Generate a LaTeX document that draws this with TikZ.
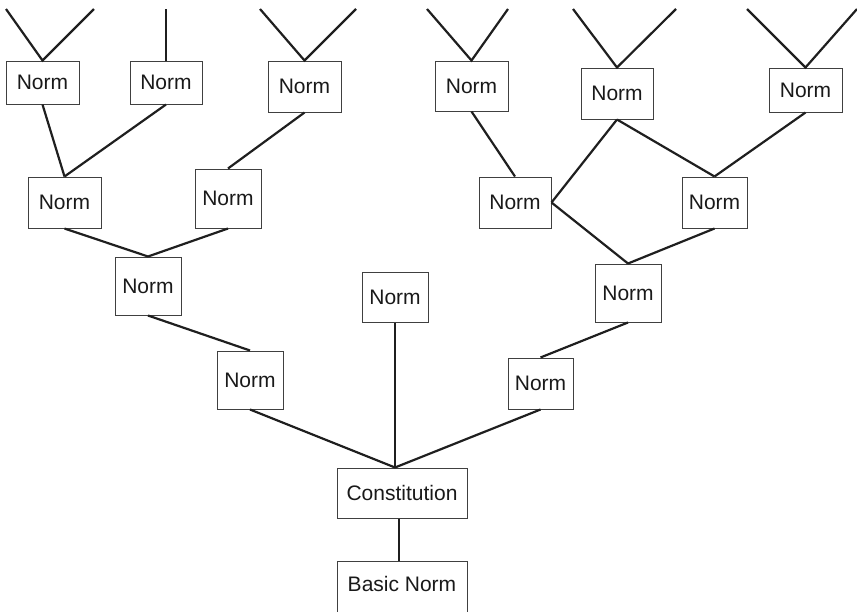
\documentclass[tikz,border=0pt]{standalone}
\usepackage{fontspec}
\setmainfont{Liberation Sans}
\begin{document}
\begin{tikzpicture}[x=1pt,y=-1pt,
  nb/.style={draw=black!75, line width=1pt, inner sep=0pt, font=\fontsize{21}{24}\selectfont, text=black!90},
  ln/.style={line width=2.2pt, draw=black!88}]
\clip (0,0) rectangle (857,611);
% boxes: center, width, height
\node[nb, minimum width=73pt, minimum height=43pt] (n1) at (42.5,82.5) {Norm};
\node[nb, minimum width=72pt, minimum height=43pt] (n2) at (166,82.5) {Norm};
\node[nb, minimum width=73pt, minimum height=51pt] (n3) at (304.5,86.5) {Norm};
\node[nb, minimum width=73pt, minimum height=51pt] (n4) at (64.5,202.5) {Norm};
\node[nb, minimum width=66pt, minimum height=59pt] (n5) at (228,198.5) {Norm};
\node[nb, minimum width=73pt, minimum height=50pt] (n6) at (471.5,86) {Norm};
\node[nb, minimum width=72pt, minimum height=51pt] (n7) at (617,93.5) {Norm};
\node[nb, minimum width=73pt, minimum height=44pt] (n8) at (805.5,90) {Norm};
\node[nb, minimum width=72pt, minimum height=51pt] (n9) at (515,202.5) {Norm};
\node[nb, minimum width=65pt, minimum height=51pt] (n10) at (714.5,202.5) {Norm};
\node[nb, minimum width=66pt, minimum height=58pt] (n11) at (628,293) {Norm};
\node[nb, minimum width=66pt, minimum height=58pt] (n12) at (148,286) {Norm};
\node[nb, minimum width=66pt, minimum height=58pt] (n13) at (250,380) {Norm};
\node[nb, minimum width=65pt, minimum height=51pt] (n14) at (540.5,383.5) {Norm};
\node[nb, minimum width=66pt, minimum height=50pt] (nc) at (395,297) {Norm};
\node[nb, minimum width=130pt, minimum height=50pt] (con) at (402,493) {Constitution};
\node[nb, minimum width=130pt, minimum height=53pt, text depth=0pt] (bas) at (402,587.5) {\raisebox{7pt}{Basic Norm}};
% free top ends
\coordinate (t1a) at (6,9);   \coordinate (t1b) at (94,9);
\coordinate (t2) at (166,9);
\coordinate (t3a) at (260,9); \coordinate (t3b) at (356,9);
\coordinate (t6a) at (427,9); \coordinate (t6b) at (508,9);
\coordinate (t7a) at (573,9); \coordinate (t7b) at (676,9);
\coordinate (t8a) at (747,9); \coordinate (t8b) at (857,9);
\coordinate (ctop) at ([xshift=-7pt]con.north);
% connectors
\draw[ln] (t1a) -- (n1.north) -- (t1b);
\draw[ln] (t2) -- (n2.north);
\draw[ln] (t3a) -- (n3.north) -- (t3b);
\draw[ln] (t6a) -- (n6.north) -- (t6b);
\draw[ln] (t7a) -- (n7.north) -- (t7b);
\draw[ln] (t8a) -- (n8.north) -- (t8b);
\draw[ln] (n1.south) -- (n4.north);
\draw[ln] (n2.south) -- (n4.north);
\draw[ln] (n3.south) -- (n5.north);
\draw[ln] (n4.south) -- (n12.north);
\draw[ln] (n5.south) -- (n12.north);
\draw[ln] (n12.south) -- (n13.north);
\draw[ln] (n6.south) -- (n9.north);
\draw[ln] (n7.south) -- (n9.east);
\draw[ln] (n7.south) -- (n10.north);
\draw[ln] (n8.south) -- (n10.north);
\draw[ln] (n9.east) -- (n11.north);
\draw[ln] (n10.south) -- (n11.north);
\draw[ln] (n11.south) -- (n14.north);
\draw[ln] (n13.south) -- (ctop);
\draw[ln] (nc.south) -- (ctop);
\draw[ln] (n14.south) -- (ctop);
\draw[ln] ([xshift=-3pt]con.south) -- ([xshift=-3pt]bas.north);
\end{tikzpicture}
\end{document}
